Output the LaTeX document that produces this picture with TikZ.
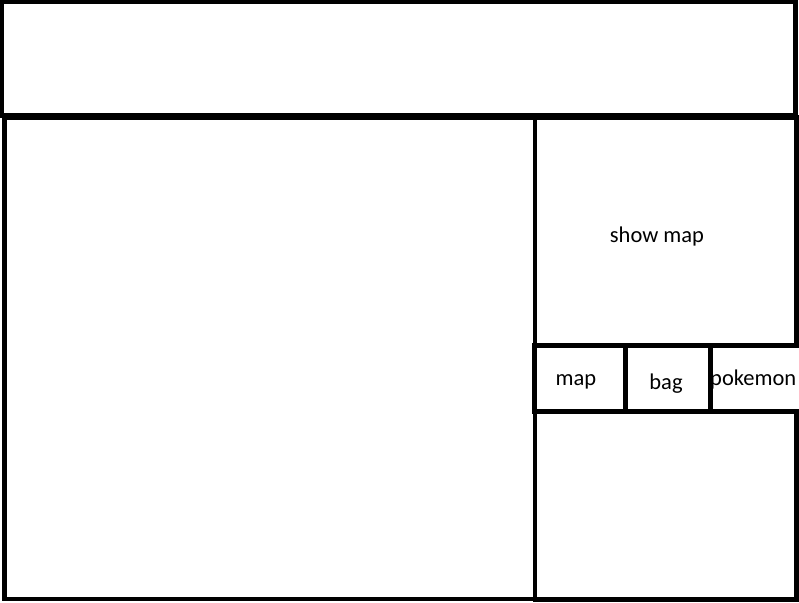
\documentclass[tikz,border=0pt]{standalone}
\usepackage{fontspec}
\setmainfont{Carlito}
\usetikzlibrary{positioning}
\tikzset{
  panel/.style={rectangle, draw=black, line width=4.5pt, inner sep=0pt},
  caption/.style={font=\fontsize{22.5}{26}\selectfont, inner sep=0pt, anchor=base},
}

\begin{document}
\begin{tikzpicture}[x=1pt, y=-1pt]
        % page area
        \fill[white] (0,0) rectangle (799,602);
        \useasboundingbox (0,0) rectangle (799,602);

        % labels first, so the borders lie over them
        \node[caption] (lshow) at (657,242) {show map};
        \node[caption] (lmap) at (576,385) {map};
        \node[caption] (lbag) at (666,389) {bag};
        \node[caption, anchor=base west] (lpoke) at (710,385) {pokemon};

        % header strip
        \node[panel, minimum width=794pt, minimum height=114pt] (header) at (398.5,58.5) {};

        % main play area
        \node[panel, minimum width=530.5pt, minimum height=481.5pt] (field) at (269.75,358.25) {};

        % right column
        \node[panel, minimum width=261.5pt, minimum height=228pt] (showmap) at (665.75,231.5) {};
        \node[panel, minimum width=91pt, minimum height=66pt] (mapbtn) at (580,378.5) {};
        \node[panel, minimum width=85pt, minimum height=66pt] (bagbtn) at (668,378.5) {};
        \node[panel, minimum width=90.5pt, minimum height=66pt] (pokebtn) at (755.75,378.5) {};
        \node[panel, minimum width=261.5pt, minimum height=188pt] (info) at (665.75,505.5) {};
      \end{tikzpicture}
\end{document}
